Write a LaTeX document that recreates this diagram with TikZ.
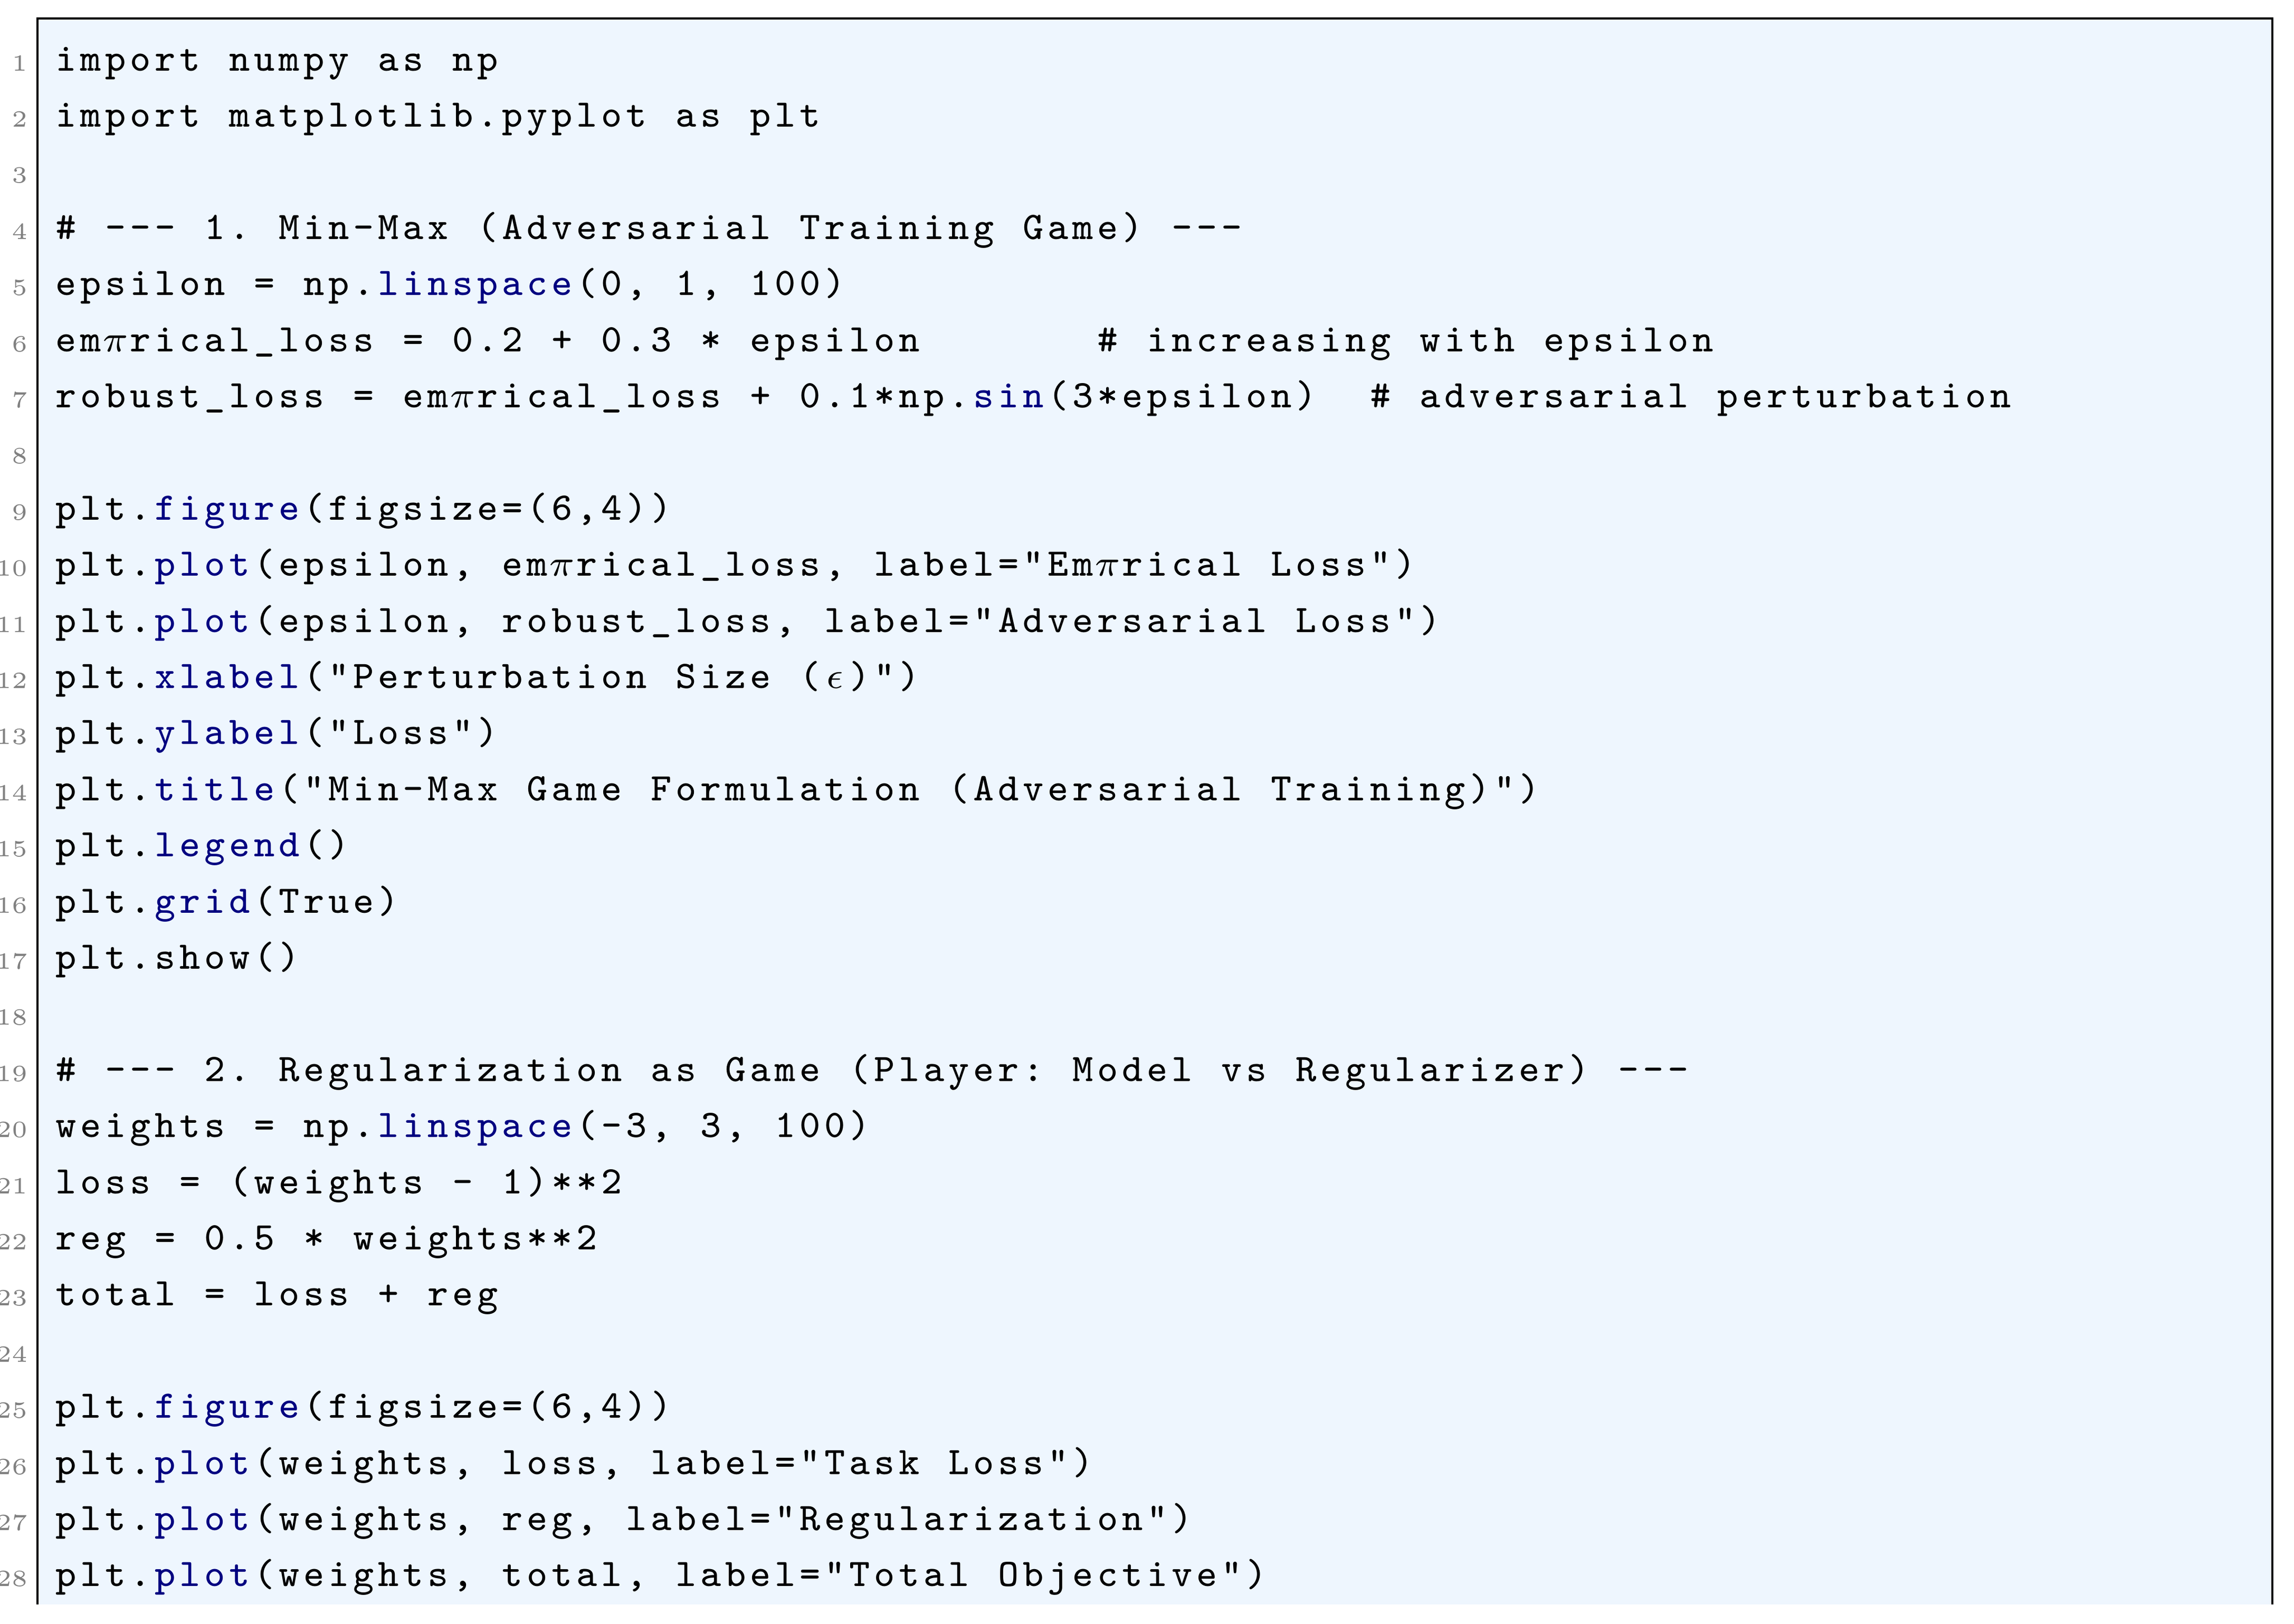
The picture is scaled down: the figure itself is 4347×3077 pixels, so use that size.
\documentclass[tikz,border=0pt]{standalone}
\usepackage{tikz}
\usetikzlibrary{positioning}

\definecolor{codebg}{RGB}{238,246,254}
\definecolor{kwblue}{RGB}{0,0,128}

% fixed pitch cells, like a listing
\newlength\cellw
\setlength\cellw{4.7pt}
\newcommand\codefont{\fontsize{7.4}{8}\selectfont\ttfamily}
\newcommand\numfont{\fontsize{4.4}{5}\selectfont}
\ExplSyntaxOn
\NewDocumentCommand\code{m}{\str_map_inline:nn {#1} {\makebox[\cellw]{##1}}}
\ExplSyntaxOff
\newcommand\kw[1]{{\color{kwblue}\code{#1}}}
\newcommand\sym[1]{\makebox[\cellw]{#1}}
\newcommand\hash{\makebox[\cellw]{\#}}
\newcommand\gap[1]{\hspace*{#1\cellw}}
\newcommand\rowy[1]{134+(#1-1)*106.4}

\begin{document}
\begin{tikzpicture}[x=0.1pt, y=-0.1pt,
	codeline/.style={anchor=base west, inner sep=0pt, font=\codefont},
	lineno/.style={anchor=base east, inner sep=0pt, text=gray, font=\numfont},
	frameline/.style={line width=0.4pt, line join=miter}]
	
	\useasboundingbox (0,0) rectangle (4347,3077);
	
	% --- 1. THE BOX ---
	\fill[codebg] (70.5,34.5) rectangle (4306,3041);
	\draw[frameline] (70.5,3041) -- (70.5,34.5) -- (4306,34.5) -- (4306,3041);
	
	% line numbers
	\foreach \n in {1,...,28}
		\node[lineno] (n\n) at (54,{\rowy{\n}}) {\n};
	
	% --- 2. THE CODE ---
	\def\codex{100}
	\node[codeline] (l1) at (\codex,{\rowy{1}}) {\code{import numpy as np}};
	\node[codeline] (l2) at (\codex,{\rowy{2}}) {\code{import matplotlib.pyplot as plt}};
	
	\node[codeline] (l4) at (\codex,{\rowy{4}}) {\hash\code{ --- 1. Min-Max (Adversarial Training Game) ---}};
	\node[codeline] (l5) at (\codex,{\rowy{5}}) {\code{epsilon = np.}\kw{linspace}\code{(0, 1, 100)}};
	\node[codeline] (l6) at (\codex,{\rowy{6}}) {\code{em}\sym{$\pi$}\code{rical_loss = 0.2 + 0.3 * epsilon}\gap{7}\hash\code{ increasing with epsilon}};
	\node[codeline] (l7) at (\codex,{\rowy{7}}) {\code{robust_loss = em}\sym{$\pi$}\code{rical_loss + 0.1*np.}\kw{sin}\code{(3*epsilon)}\gap{2}\hash\code{ adversarial perturbation}};
	
	\node[codeline] (l9) at (\codex,{\rowy{9}}) {\code{plt.}\kw{figure}\code{(figsize=(6,4))}};
	\node[codeline] (l10) at (\codex,{\rowy{10}}) {\code{plt.}\kw{plot}\code{(epsilon, em}\sym{$\pi$}\code{rical_loss, label="Em}\sym{$\pi$}\code{rical Loss")}};
	\node[codeline] (l11) at (\codex,{\rowy{11}}) {\code{plt.}\kw{plot}\code{(epsilon, robust_loss, label="Adversarial Loss")}};
	\node[codeline] (l12) at (\codex,{\rowy{12}}) {\code{plt.}\kw{xlabel}\code{("Perturbation Size (}\sym{$\epsilon$}\code{)")}};
	\node[codeline] (l13) at (\codex,{\rowy{13}}) {\code{plt.}\kw{ylabel}\code{("Loss")}};
	\node[codeline] (l14) at (\codex,{\rowy{14}}) {\code{plt.}\kw{title}\code{("Min-Max Game Formulation (Adversarial Training)")}};
	\node[codeline] (l15) at (\codex,{\rowy{15}}) {\code{plt.}\kw{legend}\code{()}};
	\node[codeline] (l16) at (\codex,{\rowy{16}}) {\code{plt.}\kw{grid}\code{(True)}};
	\node[codeline] (l17) at (\codex,{\rowy{17}}) {\code{plt.show()}};
	
	\node[codeline] (l19) at (\codex,{\rowy{19}}) {\hash\code{ --- 2. Regularization as Game (Player: Model vs Regularizer) ---}};
	\node[codeline] (l20) at (\codex,{\rowy{20}}) {\code{weights = np.}\kw{linspace}\code{(-3, 3, 100)}};
	\node[codeline] (l21) at (\codex,{\rowy{21}}) {\code{loss = (weights - 1)**2}};
	\node[codeline] (l22) at (\codex,{\rowy{22}}) {\code{reg = 0.5 * weights**2}};
	\node[codeline] (l23) at (\codex,{\rowy{23}}) {\code{total = loss + reg}};
	
	\node[codeline] (l25) at (\codex,{\rowy{25}}) {\code{plt.}\kw{figure}\code{(figsize=(6,4))}};
	\node[codeline] (l26) at (\codex,{\rowy{26}}) {\code{plt.}\kw{plot}\code{(weights, loss, label="Task Loss")}};
	\node[codeline] (l27) at (\codex,{\rowy{27}}) {\code{plt.}\kw{plot}\code{(weights, reg, label="Regularization")}};
	\node[codeline] (l28) at (\codex,{\rowy{28}}) {\code{plt.}\kw{plot}\code{(weights, total, label="Total Objective")}};
	
\end{tikzpicture}
\end{document}
